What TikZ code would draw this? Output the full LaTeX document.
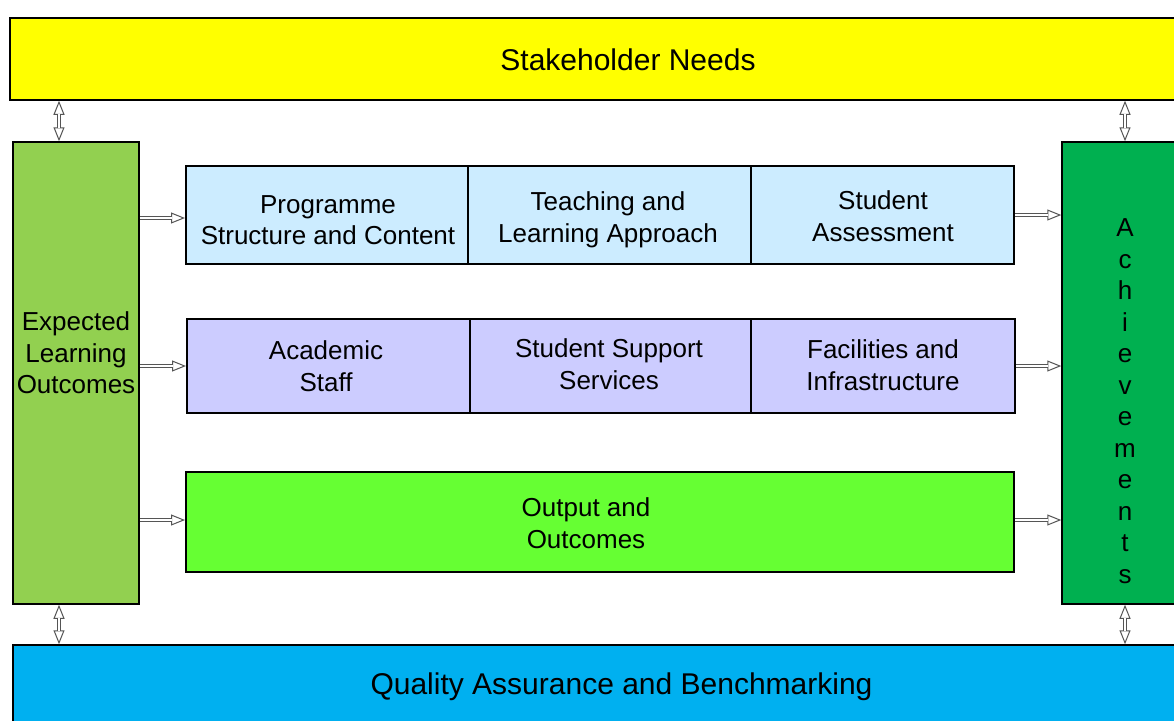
\documentclass[tikz,border=0pt]{standalone}
\usepackage{fontspec}
\setmainfont{Liberation Sans}
\usetikzlibrary{arrows.meta}
\definecolor{yel}{HTML}{FFFF00}
\definecolor{elocol}{HTML}{92D050}
\definecolor{achcol}{HTML}{00B050}
\definecolor{qacol}{HTML}{00B0F0}
\definecolor{rowA}{HTML}{CCECFF}
\definecolor{rowB}{HTML}{CCCCFF}
\definecolor{rowC}{HTML}{66FF33}
\definecolor{arrgray}{HTML}{555555}
\tikzset{
  box/.style={draw=black, line width=1.5pt, rectangle, inner sep=0pt},
  cell/.style={draw=black, line width=2pt, rectangle, inner sep=0pt},
  txt/.style={font=\fontsize{26}{31.5}\selectfont, align=center, inner sep=0pt},
  big/.style={font=\fontsize{30}{36}\selectfont, inner sep=0pt},
  tipline/.style={draw=arrgray, line width=1pt},
  shaft/.style={draw=arrgray, line width=0.8pt, double=white, double distance=2.5pt},
  >={Triangle[open, fill=white, length=14pt, width=11pt]}
}
\begin{document}
\begin{tikzpicture}[x=1pt, y=-1pt]
\useasboundingbox (0,0) rectangle (1174,720);
\fill[white] (0,0) rectangle (1174,720);
\clip (0,0) rectangle (1174,720);

% outer frame boxes
\node[box, fill=yel, minimum width=1236pt, minimum height=82pt] (sh) at (628,59) {};
\node[box, fill=elocol, minimum width=126pt, minimum height=462pt] (elo) at (76,373) {};
\node[box, fill=achcol, minimum width=126pt, minimum height=462pt] (ach) at (1125,373) {};
\node[box, fill=qacol, minimum width=1217pt, minimum height=80pt] (qa) at (621.5,685) {};

% row 1
\node[cell, fill=rowA, minimum width=282pt, minimum height=98pt] (r1a) at (327,215) {};
\node[cell, fill=rowA, minimum width=283pt, minimum height=98pt] (r1b) at (609.5,215) {};
\node[cell, fill=rowA, minimum width=263pt, minimum height=98pt] (r1c) at (882.5,215) {};
% row 2
\node[cell, fill=rowB, minimum width=283pt, minimum height=94pt] (r2a) at (328.5,366) {};
\node[cell, fill=rowB, minimum width=281pt, minimum height=94pt] (r2b) at (610.5,366) {};
\node[cell, fill=rowB, minimum width=264pt, minimum height=94pt] (r2c) at (883,366) {};
% row 3
\node[cell, fill=rowC, minimum width=828pt, minimum height=100pt] (r3) at (600,522) {};

% texts
\node[big] (tsh) at (628,60) {Stakeholder Needs};
\node[big] (tqa) at (621.5,687) {Quality Assurance and Benchmarking};
\node[txt] (telo) at (76,353) {Expected\\Learning\\Outcomes};
\node[txt] (tach) at (1125,401) {A\\c\\h\\i\\e\\v\\e\\m\\e\\n\\t\\s};
\node[txt] (t1a) at (328,220) {Programme\\Structure and Content};
\node[txt] (t1b) at (608,220) {Teaching and\\Learning Approach};
\node[txt] (t1c) at (883,216) {Student\\Assessment};
\node[txt] (t2a) at (326,366) {Academic\\Staff};
\node[txt] (t2b) at (609,364) {Student Support\\Services};
\node[txt] (t2c) at (883,365) {Facilities and\\Infrastructure};
\node[txt] (t3) at (586,523) {Output and\\Outcomes};

% vertical double arrows
\draw[tipline, <->] ([xshift=-17pt]elo.north) -- ([xshift=-17pt]elo.north |- sh.south);
\draw[shaft, shorten <=13pt, shorten >=13pt] ([xshift=-17pt]elo.north) -- ([xshift=-17pt]elo.north |- sh.south);
\draw[tipline, <->] (ach.north) -- (ach.north |- sh.south);
\draw[shaft, shorten <=13pt, shorten >=13pt] (ach.north) -- (ach.north |- sh.south);
\draw[tipline, <->] ([xshift=-17pt]elo.south) -- ([xshift=-17pt]elo.south |- qa.north);
\draw[shaft, shorten <=13pt, shorten >=13pt] ([xshift=-17pt]elo.south) -- ([xshift=-17pt]elo.south |- qa.north);
\draw[tipline, <->] (ach.south) -- (ach.south |- qa.north);
\draw[shaft, shorten <=13pt, shorten >=13pt] (ach.south) -- (ach.south |- qa.north);

% horizontal arrows from ELO
\draw[tipline, ->] ([yshift=-3pt]elo.east |- r1a.west) -- ([yshift=-3pt]r1a.west);
\draw[shaft, shorten >=13pt] ([yshift=-3pt]elo.east |- r1a.west) -- ([yshift=-3pt]r1a.west);
\draw[tipline, ->] (elo.east |- r2a.west) -- (r2a.west);
\draw[shaft, shorten >=13pt] (elo.east |- r2a.west) -- (r2a.west);
\draw[tipline, ->] ([yshift=2pt]elo.east |- r3.west) -- ([yshift=2pt]r3.west);
\draw[shaft, shorten >=13pt] ([yshift=2pt]elo.east |- r3.west) -- ([yshift=2pt]r3.west);

% horizontal arrows to Achievements
\draw[tipline, ->] (r1c.east) -- (ach.west |- r1c.east);
\draw[shaft, shorten >=13pt] (r1c.east) -- (ach.west |- r1c.east);
\draw[tipline, ->] (r2c.east) -- (ach.west |- r2c.east);
\draw[shaft, shorten >=13pt] (r2c.east) -- (ach.west |- r2c.east);
\draw[tipline, ->] ([yshift=2pt]r3.east) -- ([yshift=2pt]ach.west |- r3.east);
\draw[shaft, shorten >=13pt] ([yshift=2pt]r3.east) -- ([yshift=2pt]ach.west |- r3.east);
\end{tikzpicture}
\end{document}
